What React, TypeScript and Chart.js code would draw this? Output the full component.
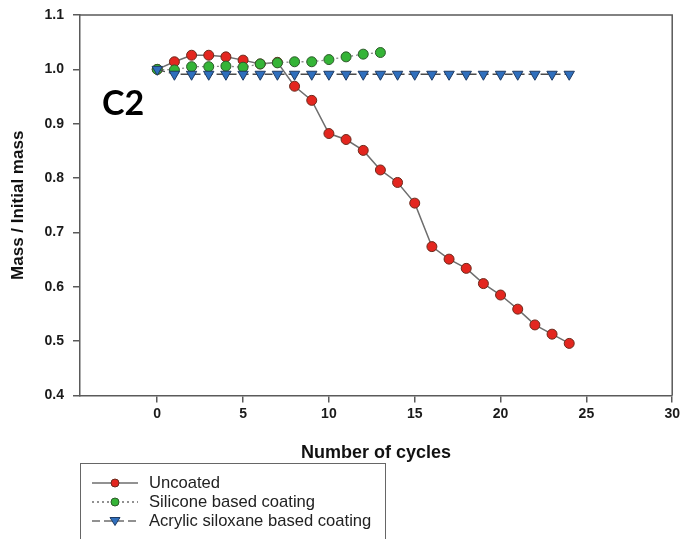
import React, { useEffect, useRef } from "react";
import { Chart, registerables } from "chart.js";

Chart.register(...registerables);

const uncoatedCycles = [0, 1, 2, 3, 4, 5, 6, 7, 8, 9, 10, 11, 12, 13, 14, 15, 16, 17, 18, 19, 20, 21, 22, 23, 24];
const uncoated = [1.0, 1.014, 1.026, 1.026, 1.023, 1.017, 1.01, 1.013, 0.969, 0.943, 0.882, 0.871, 0.851, 0.815, 0.792, 0.754, 0.674, 0.651, 0.634, 0.606, 0.585, 0.559, 0.53, 0.513, 0.496];

const siliconeCycles = [0, 1, 2, 3, 4, 5, 6, 7, 8, 9, 10, 11, 12, 13];
const silicone = [1.0, 0.999, 1.005, 1.005, 1.006, 1.004, 1.01, 1.012, 1.014, 1.014, 1.018, 1.023, 1.028, 1.031];

const acrylicCycles = [0, 1, 2, 3, 4, 5, 6, 7, 8, 9, 10, 11, 12, 13, 14, 15, 16, 17, 18, 19, 20, 21, 22, 23, 24];
const acrylic = [1.0, 0.991, 0.991, 0.991, 0.991, 0.991, 0.991, 0.991, 0.991, 0.991, 0.991, 0.991, 0.991, 0.991, 0.991, 0.991, 0.991, 0.991, 0.991, 0.991, 0.991, 0.991, 0.991, 0.991, 0.991];

const xTickValues = [0, 5, 10, 15, 20, 25, 30];
const yTickValues = [0.4, 0.5, 0.6, 0.7, 0.8, 0.9, 1.0, 1.1];

const seriesNames = ["Uncoated", "Silicone based coating", "Acrylic siloxane based coating"];
const panelLabel = "C2";
const xTitle = "Number of cycles";
const yTitle = "Mass / Initial mass";

const RED = "#e3261f";
const RED_EDGE = "#6b2a1c";
const GREEN = "#35b437";
const GREEN_EDGE = "#2d5a2a";
const BLUE = "#2f6fbd";
const BLUE_EDGE = "#1f3b63";
const LINE = "#6e6e6e";
const AXIS = "#5a5a5a";
const FONT = "'Liberation Sans', Arial, sans-serif";

const toPoints = (xs: number[], ys: number[]) => xs.map((x, i) => ({ x, y: ys[i] }));

const decorPlugin = {
  id: "decor",
  afterDraw(chart: any) {
    const { ctx, chartArea } = chart;
    ctx.save();
    // frame (top & right)
    ctx.strokeStyle = AXIS;
    ctx.lineWidth = 1.5;
    ctx.beginPath();
    ctx.moveTo(chartArea.left, chartArea.top);
    ctx.lineTo(chartArea.right, chartArea.top);
    ctx.lineTo(chartArea.right, chartArea.bottom);
    ctx.stroke();

    // panel label
    ctx.fillStyle = "#000";
    ctx.font = "bold 34px Lato, 'Open Sans', sans-serif";
    ctx.textAlign = "left";
    ctx.textBaseline = "alphabetic";
    ctx.fillText(panelLabel, 102, 115);

    // legend
    const bx = 80, by = 463, bw = 305;
    ctx.strokeStyle = "#666";
    ctx.lineWidth = 1;
    ctx.strokeRect(bx + 0.5, by + 0.5, bw, 100);

    const rows = [483, 502, 521];
    const dashes = [[], [2, 3], [8, 4]];
    rows.forEach((ry, i) => {
      ctx.strokeStyle = LINE;
      ctx.lineWidth = 1.3;
      ctx.setLineDash(dashes[i]);
      ctx.beginPath();
      ctx.moveTo(92, ry);
      ctx.lineTo(138, ry);
      ctx.stroke();
      ctx.setLineDash([]);
      ctx.lineWidth = 1;
      if (i === 0 || i === 1) {
        ctx.fillStyle = i === 0 ? RED : GREEN;
        ctx.strokeStyle = i === 0 ? RED_EDGE : GREEN_EDGE;
        ctx.beginPath();
        ctx.arc(115, ry, 4, 0, Math.PI * 2);
        ctx.fill();
        ctx.stroke();
      } else {
        ctx.fillStyle = BLUE;
        ctx.strokeStyle = BLUE_EDGE;
        ctx.beginPath();
        ctx.moveTo(110, ry - 3.5);
        ctx.lineTo(120, ry - 3.5);
        ctx.lineTo(115, ry + 4.5);
        ctx.closePath();
        ctx.fill();
        ctx.stroke();
      }
      ctx.fillStyle = "#222";
      ctx.font = "16.6px " + FONT;
      ctx.textAlign = "left";
      ctx.textBaseline = "middle";
      ctx.fillText(seriesNames[i], 149, ry);
    });
    ctx.restore();
  },
};

export default function App() {
  const ref = useRef<HTMLCanvasElement | null>(null);

  useEffect(() => {
    document.body.style.margin = "0";
    const canvas = ref.current;
    if (!canvas) return;
    const tickFont = { family: FONT, size: 14, weight: "bold" as const };
    const chart = new Chart(canvas, {
      type: "scatter",
      data: {
        datasets: [
          {
            label: seriesNames[0],
            data: toPoints(uncoatedCycles, uncoated),
            showLine: true,
            borderColor: LINE,
            borderWidth: 1.5,
            backgroundColor: RED,
            pointBackgroundColor: RED,
            pointBorderColor: RED_EDGE,
            pointBorderWidth: 1,
            pointRadius: 5,
            pointStyle: "circle",
            order: 3,
          },
          {
            label: seriesNames[1],
            data: toPoints(siliconeCycles, silicone),
            showLine: true,
            borderColor: "#8a8a8a",
            borderWidth: 1.3,
            borderDash: [2, 3],
            backgroundColor: GREEN,
            pointBackgroundColor: GREEN,
            pointBorderColor: GREEN_EDGE,
            pointBorderWidth: 1,
            pointRadius: 5,
            pointStyle: "circle",
            order: 2,
          },
          {
            label: seriesNames[2],
            data: toPoints(acrylicCycles, acrylic),
            showLine: true,
            borderColor: "#4a4a4a",
            borderWidth: 1.3,
            borderDash: [8, 4],
            backgroundColor: BLUE,
            pointBackgroundColor: BLUE,
            pointBorderColor: BLUE_EDGE,
            pointBorderWidth: 1,
            pointRadius: 6,
            pointStyle: "triangle",
            pointRotation: 180,
            order: 1,
          },
        ],
      },
      options: {
        responsive: false,
        animation: false,
        layout: { padding: { left: 0, top: 15, right: 10, bottom: 75 } },
        plugins: { legend: { display: false }, tooltip: { enabled: false } },
        scales: {
          x: {
            type: "linear",
            min: -4.5,
            max: 30,
            afterBuildTicks: (scale: any) => {
              scale.ticks = xTickValues.map((v) => ({ value: v }));
            },
            ticks: {
              font: tickFont,
              color: "#1a1a1a",
              padding: 3,
              maxRotation: 0,
              callback: (v: any) => String(v),
            },
            grid: { display: true, drawOnChartArea: false, drawTicks: true, tickLength: 7, color: AXIS, lineWidth: 1.5 },
            border: { display: true, color: AXIS, width: 1.5 },
            title: {
              display: true,
              text: xTitle,
              font: { family: FONT, size: 18, weight: "bold" },
              color: "#111",
              padding: { top: 17, bottom: 0 },
            },
          },
          y: {
            type: "linear",
            min: 0.4,
            max: 1.1,
            afterBuildTicks: (scale: any) => {
              scale.ticks = yTickValues.map((v) => ({ value: v }));
            },
            afterFit: (scale: any) => {
              scale.width = 80;
              scale.paddingTop = 0;
              scale.paddingBottom = 0;
            },
            ticks: {
              font: tickFont,
              color: "#1a1a1a",
              padding: 9,
              callback: (v: any) => Number(v).toFixed(1),
            },
            grid: { display: true, drawOnChartArea: false, drawTicks: true, tickLength: 7, color: AXIS, lineWidth: 1.5 },
            border: { display: true, color: AXIS, width: 1.5 },
            title: {
              display: true,
              text: yTitle,
              font: { family: FONT, size: 17, weight: "bold" },
              color: "#111",
              padding: { top: 8, bottom: 0 },
            },
          },
        },
      },
      plugins: [decorPlugin],
    });
    return () => chart.destroy();
  }, []);

  return (
    <div style={{ width: 683, height: 539 }}>
      <canvas ref={ref} width={683} height={539} />
    </div>
  );
}
